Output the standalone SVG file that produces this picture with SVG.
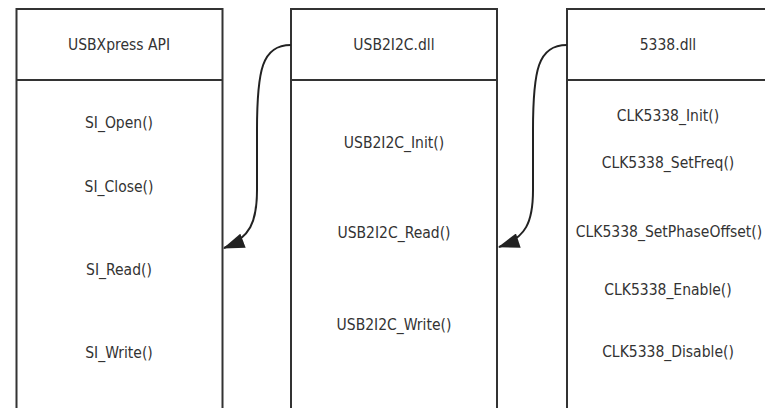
<svg xmlns="http://www.w3.org/2000/svg" width="765" height="408" viewBox="0 0 765 408">
<style>
.box{fill:#fff;stroke:#333;stroke-width:2}
.t{font-family:"DejaVu Sans Condensed","DejaVu Sans",sans-serif;font-size:15.5px;fill:#333;text-anchor:middle;dominant-baseline:central}
.c{fill:none;stroke:#222;stroke-width:2}
</style>
<defs>
<marker id="ah2" viewBox="0 0 20 14" refX="19" refY="7" markerWidth="22" markerHeight="15" markerUnits="userSpaceOnUse" orient="auto">
<path d="M0,0 L20,7 L0,14 z" fill="#222"/>
</marker>
</defs>
<g id="usbxpress">
<rect class="box" x="16.5" y="9" width="206" height="420"/>
<line class="box" x1="16.5" y1="80" x2="222.5" y2="80"/>
<text class="t" x="119" y="45">USBXpress API</text>
<text class="t" x="119" y="123">SI_Open()</text>
<text class="t" x="119" y="187">SI_Close()</text>
<text class="t" x="119" y="270">SI_Read()</text>
<text class="t" x="119" y="353">SI_Write()</text>
</g>
<g id="usb2i2c">
<rect class="box" x="291" y="9" width="206" height="420"/>
<line class="box" x1="291" y1="80" x2="497" y2="80"/>
<text class="t" x="394" y="45">USB2I2C.dll</text>
<text class="t" x="394" y="143">USB2I2C_Init()</text>
<text class="t" x="394" y="233">USB2I2C_Read()</text>
<text class="t" x="394" y="325">USB2I2C_Write()</text>
</g>
<g id="clk5338">
<rect class="box" x="567" y="9" width="206" height="420"/>
<line class="box" x1="567" y1="80" x2="773" y2="80"/>
<text class="t" x="668" y="45">5338.dll</text>
<text class="t" x="668" y="116">CLK5338_Init()</text>
<text class="t" x="668" y="163">CLK5338_SetFreq()</text>
<text class="t" x="669" y="232">CLK5338_SetPhaseOffset()</text>
<text class="t" x="668" y="290">CLK5338_Enable()</text>
<text class="t" x="668" y="352">CLK5338_Disable()</text>
</g>
<g id="connectors">
<path class="c" d="M291,45 C262,45 257,70 257,130 L257,190 C257,222 250,238 224,248" marker-end="url(#ah2)"/>
<path class="c" d="M567,45 C538,45 533,70 533,130 L533,190 C533,222 526,238 499,247" marker-end="url(#ah2)"/>
</g>
</svg>
